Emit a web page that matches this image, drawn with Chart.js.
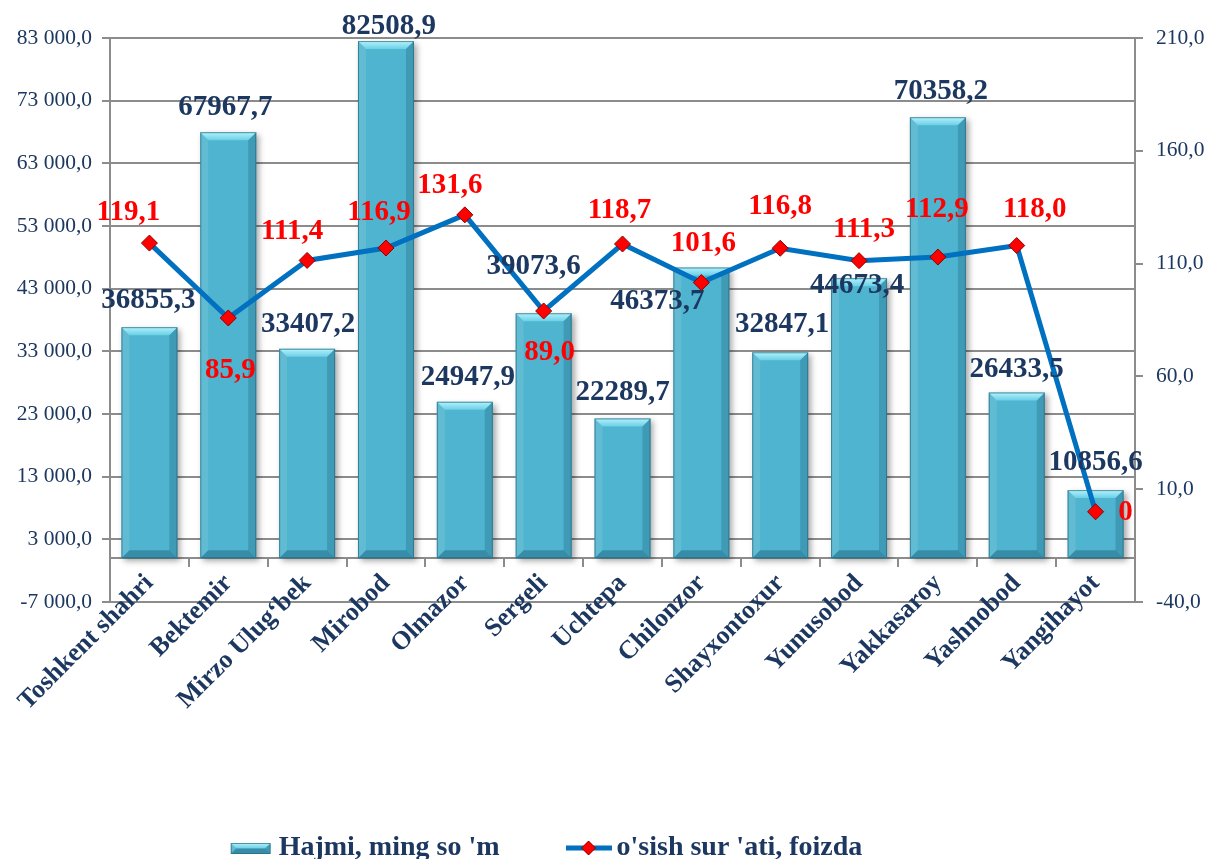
<!DOCTYPE html>
<html><head><meta charset="utf-8">
<script src="https://cdn.jsdelivr.net/npm/chart.js@4.4.1/dist/chart.umd.min.js"></script>
<style>html,body{margin:0;padding:0;background:#fff;}#wrap{width:1213px;height:859px;}</style>
</head><body><div id="wrap"><canvas id="c" width="1213" height="859"></canvas></div>
<script>
// ---------- data ----------
const categories = ['Toshkent shahri','Bektemir','Mirzo Ulug\u2018bek','Mirobod','Olmazor','Sergeli','Uchtepa','Chilonzor','Shayxontoxur','Yunusobod','Yakkasaroy','Yashnobod','Yangihayot'];
const volumeValues = [36855.3,67967.7,33407.2,82508.9,24947.9,39073.6,22289.7,46373.7,32847.1,44673.4,70358.2,26433.5,10856.6];
const growthValues = [119.1,85.9,111.4,116.9,131.6,89.0,118.7,101.6,116.8,111.3,112.9,118.0,0];
const growthLabels = ['119,1','85,9','111,4','116,9','131,6','89,0','118,7','101,6','116,8','111,3','112,9','118,0','0'];
const seriesNames = ["Hajmi, ming so 'm", "o'sish sur 'ati, foizda"];
const leftAxisRange = [-7000, 83000, 10000];
const rightAxisRange = [-40, 210, 50];

// ---------- styling ----------
const NAVY = '#1D3860';
const GRID = '#8C8C8C';
const FONT = "'Liberation Serif', 'Times New Roman', serif";
const BAR_COLOR = '#4FB4CF';
const LINE_COLOR = '#0070C0';
// label offsets (dx, dy) relative to the element anchor
const barLabelShift = [[-1,-27],[-3,-25],[1,-24],[3,-15],[3,-24],[-10,-47],[0,-26],[-44,34],[2,-28],[-2,7],[3,-26],[0,-23],[0,-28]];
const lineLabelShift = [[-21,-31],[2,53],[-15,-29],[-7,-36],[-15,-29],[6,42],[-3,-33],[2,-39],[0,-42],[5,-31],[-1,-48],[18,-36],[30,1]];

function fmtLeft(v){
  const s = Math.abs(Math.round(v)).toString().replace(/\B(?=(\d{3})+(?!\d))/g,' ');
  return (v<0?'-':'') + s + ',0';
}
function fmtRight(v){ return v.toFixed(1).replace('.', ','); }
function fmtBar(v){ return v.toFixed(1).replace('.', ','); }

function drawBevel(ctx, l, t, w, h){
  const b = Math.min(8, h/2);
  ctx.save();
  const g = ctx.createLinearGradient(0, t, 0, t+b);
  g.addColorStop(0, '#B4F2FC'); g.addColorStop(1, '#6BCFE6');
  ctx.fillStyle = g;
  ctx.beginPath(); ctx.moveTo(l,t); ctx.lineTo(l+w,t); ctx.lineTo(l+w-b,t+b); ctx.lineTo(l+b,t+b); ctx.closePath(); ctx.fill();
  ctx.fillStyle = 'rgba(255,255,255,0.10)';
  ctx.beginPath(); ctx.moveTo(l,t); ctx.lineTo(l+b,t+b); ctx.lineTo(l+b,t+h-b); ctx.lineTo(l,t+h); ctx.closePath(); ctx.fill();
  ctx.fillStyle = 'rgba(0,50,80,0.20)';
  ctx.beginPath(); ctx.moveTo(l+w,t); ctx.lineTo(l+w,t+h); ctx.lineTo(l+w-b,t+h-b); ctx.lineTo(l+w-b,t+b); ctx.closePath(); ctx.fill();
  ctx.fillStyle = 'rgba(0,50,80,0.30)';
  ctx.beginPath(); ctx.moveTo(l,t+h); ctx.lineTo(l+b,t+h-b); ctx.lineTo(l+w-b,t+h-b); ctx.lineTo(l+w,t+h); ctx.closePath(); ctx.fill();
  ctx.strokeStyle = 'rgba(40,105,125,0.7)'; ctx.lineWidth = 1;
  ctx.strokeRect(l+0.5, t+0.5, w-1, h-1);
  ctx.restore();
}

// legend swatches
function makeBarSwatch(){
  const c = document.createElement('canvas'); c.width = 46; c.height = 16;
  const x = c.getContext('2d');
  x.fillStyle = BAR_COLOR; x.fillRect(3, 3, 40, 11);
  drawBevel(x, 3, 3, 40, 11);
  return c;
}
function makeLineSwatch(){
  const c = document.createElement('canvas'); c.width = 46; c.height = 16;
  const x = c.getContext('2d');
  x.strokeStyle = LINE_COLOR; x.lineWidth = 5; x.beginPath(); x.moveTo(0,8); x.lineTo(46,8); x.stroke();
  x.fillStyle = '#FF0000'; x.strokeStyle = '#8B0000'; x.lineWidth = 1;
  x.beginPath(); x.moveTo(23,1); x.lineTo(30,8); x.lineTo(23,15); x.lineTo(16,8); x.closePath(); x.fill(); x.stroke();
  return c;
}

const barStylePlugin = {
  id: 'barStyle',
  beforeDatasetDraw(chart, args){
    if (chart.data.datasets[args.index].type !== 'bar') return;
    const ctx = chart.ctx; ctx.save();
    ctx.shadowColor = 'rgba(0,0,0,0.35)'; ctx.shadowBlur = 6; ctx.shadowOffsetX = 3; ctx.shadowOffsetY = 3;
  },
  afterDatasetDraw(chart, args){
    if (chart.data.datasets[args.index].type !== 'bar') return;
    const ctx = chart.ctx; ctx.restore();
    args.meta.data.forEach(el => {
      const p = el.getProps(['x','y','base','width'], true);
      drawBevel(ctx, p.x - p.width/2, p.y, p.width, p.base - p.y);
    });
  }
};

const valueLabelPlugin = {
  id: 'valueLabels',
  afterDatasetsDraw(chart){
    const ctx = chart.ctx;
    ctx.save();
    ctx.textAlign = 'center'; ctx.textBaseline = 'middle';
    ctx.font = "bold 29px " + FONT;
    const barMeta = chart.getDatasetMeta(1);
    barMeta.data.forEach((el, i) => {
      ctx.fillStyle = NAVY;
      ctx.fillText(fmtBar(volumeValues[i]), el.x + barLabelShift[i][0], el.y + barLabelShift[i][1]);
    });
    const lineMeta = chart.getDatasetMeta(0);
    lineMeta.data.forEach((el, i) => {
      ctx.fillStyle = '#FF0000';
      ctx.fillText(growthLabels[i], el.x + lineLabelShift[i][0], el.y + lineLabelShift[i][1]);
    });
    ctx.restore();
  }
};

function noPad(s){ s.paddingTop = 0; s.paddingBottom = 0; }

new Chart(document.getElementById('c'), {
  data: {
    labels: categories,
    datasets: [
      { type: 'line', label: seriesNames[1], data: growthValues, yAxisID: 'y1', order: 0,
        borderColor: LINE_COLOR, borderWidth: 5, tension: 0,
        pointStyle: 'rectRot', pointRadius: 8, pointBackgroundColor: '#FF0000', pointBorderColor: '#8B0000', pointBorderWidth: 1 },
      { type: 'bar', label: seriesNames[0], data: volumeValues, yAxisID: 'y', order: 1,
        backgroundColor: BAR_COLOR, borderWidth: 0, barPercentage: 0.71, categoryPercentage: 1 }
    ]
  },
  options: {
    responsive: false, animation: false, devicePixelRatio: 1,
    layout: { padding: { left: -114, right: 0, top: 38, bottom: -13 } },
    scales: {
      x: {
        position: { y: 0 },
        offset: true,
        grid: { drawOnChartArea: false, drawTicks: true, tickLength: 8, color: GRID, lineWidth: 2, offset: true },
        border: { display: true, color: GRID, width: 2 },
        ticks: { minRotation: 45, maxRotation: 45, autoSkip: false, padding: 2, color: NAVY, font: { family: FONT, size: 26, weight: 'bold' } },
        afterFit(s){ s.paddingLeft = 0; s.paddingRight = 0; noPad(s); }
      },
      y: {
        position: 'left', min: leftAxisRange[0], max: leftAxisRange[1],
        ticks: { stepSize: leftAxisRange[2], padding: 10, color: NAVY, font: { family: FONT, size: 21.5 }, callback: v => fmtLeft(v) },
        grid: { color: GRID, lineWidth: 2, tickLength: 8 },
        border: { display: true, color: GRID, width: 2 },
        afterFit(s){ s.width = 224; noPad(s); }
      },
      y1: {
        position: 'right', min: rightAxisRange[0], max: rightAxisRange[1],
        ticks: { stepSize: rightAxisRange[2], padding: 13, color: NAVY, font: { family: FONT, size: 21.5 }, callback: v => fmtRight(v) },
        grid: { drawOnChartArea: false, color: GRID, lineWidth: 2, tickLength: 8 },
        border: { display: true, color: GRID, width: 2 },
        afterFit(s){ s.width = 78; noPad(s); }
      }
    },
    plugins: {
      tooltip: { enabled: false },
      legend: {
        position: 'bottom', align: 'center',
        title: { display: true, text: '', font: { size: 10 }, padding: { top: 145, bottom: 0 } },
        labels: {
          usePointStyle: true, pointStyleWidth: 28, padding: 75, color: NAVY,
          font: { family: FONT, size: 28, weight: 'bold' },
          generateLabels: () => [
            { text: seriesNames[0], pointStyle: makeBarSwatch(), fillStyle: BAR_COLOR, strokeStyle: BAR_COLOR, lineWidth: 0, hidden: false, datasetIndex: 1, fontColor: NAVY },
            { text: seriesNames[1], pointStyle: makeLineSwatch(), fillStyle: LINE_COLOR, strokeStyle: LINE_COLOR, lineWidth: 0, hidden: false, datasetIndex: 0, fontColor: NAVY }
          ]
        }
      }
    }
  },
  plugins: [barStylePlugin, valueLabelPlugin]
});
</script></body></html>
